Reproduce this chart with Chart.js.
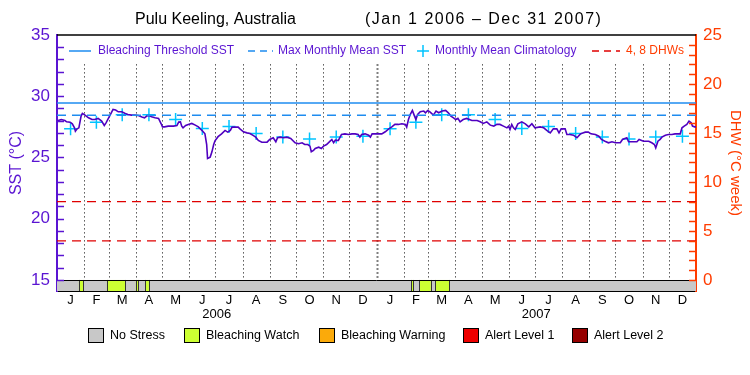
<!DOCTYPE html>
<html>
<head>
<meta charset="utf-8">
<script src="https://cdn.jsdelivr.net/npm/chart.js@4/dist/chart.umd.min.js"></script>
<style>
  body { margin: 0; background: #fff; }
  canvas { display: block; }
</style>
</head>
<body>
<canvas id="chart" width="750" height="375"></canvas>
<script>
// days since Jan 1 2006 and the SST
var sstDay = [0, 1.5, 5, 9, 11, 15, 17.5, 20, 21, 23, 25, 26, 27.5, 29, 32, 36, 40, 43, 47, 51, 54, 56, 59, 62, 64, 67, 70, 74, 78, 81, 85, 89, 93, 97, 100, 102.5, 105, 108, 112, 116, 119, 120.5, 123, 127, 133, 137, 139, 141, 142.5, 144, 147, 150, 154, 158, 161.5, 164.5, 167, 169, 171, 172, 175, 177, 179, 180.5, 184, 188, 192, 195, 198, 200, 203, 207, 209, 213, 217, 220.5, 224, 227, 230, 234, 240, 243, 247, 250, 252, 255, 259, 262.5, 267, 272, 276, 280, 283, 286.5, 289, 290.5, 293, 295, 299, 302, 304.5, 308, 312, 314, 316, 318, 321.5, 325, 329, 333, 337, 340.5, 344, 346, 348, 352, 356, 358, 360, 363.5, 369, 371, 375, 379, 382.5, 386, 390, 394, 398, 399.5, 401.5, 403.5, 406, 408, 410, 412, 415, 419, 421, 423.5, 426, 430, 433, 436, 440, 444, 447, 450, 453, 455.5, 458, 460.5, 464, 468, 474, 480, 483.5, 487, 491, 495, 499, 502.5, 506, 510, 514, 516, 517.5, 519.5, 521.5, 523.5, 526.5, 531, 535, 539, 542.5, 546, 552, 556, 559.5, 563.5, 567, 571, 573.5, 576, 580.5, 582.5, 586, 590, 594, 598, 603.5, 607, 610, 615, 619, 622, 626, 630, 634, 638, 643.5, 646, 651, 653, 659, 662.5, 665, 670, 676, 679.5, 682.5, 684, 686.5, 689, 691, 695, 698.5, 702.5, 706, 712, 714, 716.5, 719.5, 722, 724.5, 726, 728.5, 730];
var sstVal = [27.91, 28.02, 28.10, 28.02, 27.91, 27.88, 27.75, 27.42, 27.15, 27.34, 27.42, 27.80, 28.38, 28.60, 28.46, 28.24, 28.10, 28.10, 28.19, 27.97, 27.61, 27.83, 28.24, 28.65, 28.92, 28.87, 28.73, 28.73, 28.60, 28.51, 28.46, 28.46, 28.43, 28.30, 28.24, 28.38, 28.43, 28.32, 28.24, 28.19, 27.75, 27.50, 27.50, 27.56, 27.56, 27.61, 27.89, 27.91, 27.56, 27.42, 27.61, 27.70, 27.78, 27.64, 27.50, 27.29, 27.10, 26.93, 26.06, 24.92, 25.03, 25.46, 26.06, 26.36, 26.70, 26.93, 27.21, 27.07, 27.21, 27.48, 27.48, 27.48, 27.34, 27.10, 27.01, 26.96, 26.80, 26.66, 26.39, 26.25, 26.25, 26.47, 26.61, 26.28, 26.61, 26.66, 26.61, 26.66, 26.55, 26.20, 26.12, 26.20, 26.06, 26.06, 25.93, 25.46, 25.57, 25.74, 25.84, 25.74, 25.93, 26.06, 26.33, 26.47, 26.20, 26.42, 26.39, 26.88, 26.93, 26.88, 26.93, 26.93, 26.88, 26.66, 26.88, 26.93, 26.82, 26.66, 26.93, 26.93, 26.93, 26.93, 27.10, 27.34, 27.50, 27.70, 27.70, 27.75, 27.70, 27.48, 28.10, 28.51, 28.84, 28.46, 28.10, 28.51, 28.73, 28.79, 28.65, 28.84, 28.73, 28.46, 28.79, 28.65, 28.79, 28.84, 28.65, 28.38, 28.24, 28.10, 28.19, 27.91, 28.10, 28.19, 28.02, 28.02, 27.91, 27.78, 27.91, 27.64, 27.56, 27.70, 27.70, 27.56, 27.42, 27.56, 27.29, 27.70, 27.42, 27.29, 27.75, 27.91, 27.75, 27.50, 27.75, 27.42, 27.50, 27.42, 27.21, 27.01, 27.34, 27.34, 27.01, 27.34, 27.34, 26.88, 26.88, 26.82, 26.61, 26.93, 27.07, 27.07, 26.93, 26.88, 26.74, 26.47, 26.33, 26.20, 26.28, 26.20, 26.20, 26.47, 26.61, 26.28, 26.28, 26.28, 26.47, 26.33, 26.33, 26.20, 26.06, 25.79, 26.33, 26.47, 26.66, 26.82, 26.88, 26.88, 26.93, 26.93, 27.42, 27.56, 27.70, 27.97, 27.83, 27.56, 27.50, 27.50];

// monthly mean climatology (same each year)
var climVal = [27.34, 27.88, 28.48, 28.48, 28.10, 27.36, 27.52, 26.95, 26.68, 26.50, 26.68, 26.74];
var threshold = 29.45;
var maxMonthlyMean = 28.45;
var dhwLevels = [4, 8];

// bleaching watch periods (days since Jan 1 2006)
var watchStart = [25, 57, 90, 100.5, 404.5, 414, 432];
var watchEnd = [30, 78, 93, 105, 407, 427, 448];

var monthLetters = ['J', 'F', 'M', 'A', 'M', 'J', 'J', 'A', 'S', 'O', 'N', 'D'];
var monthLengths = [31, 28, 31, 30, 31, 30, 31, 31, 30, 31, 30, 31];
var years = ['2006', '2007'];
var leftTicks = [15, 20, 25, 30, 35];
var rightTicks = [0, 5, 10, 15, 20, 25];

var stressLabels = ['No Stress', 'Bleaching Watch', 'Bleaching Warning', 'Alert Level 1', 'Alert Level 2'];
var stressColors = ['#c8c8c8', '#ccff33', '#fbaa0a', '#ee0000', '#960000'];

var PURPLE = '#5a14d2';
var LINE = '#5000c0';
var BLUE = '#1e8cf0';
var CYAN = '#00c4ff';
var RED = '#e00000';
var ORANGE = '#ff3c00';
var FONT = '"Liberation Sans", Arial, sans-serif';

// month boundaries and mid points over the two years
var monthStart = [];
var monthMid = [];
var d = 0;
years.forEach(function() {
  monthLengths.forEach(function(len) {
    monthStart.push(d);
    monthMid.push(d + len / 2);
    d += len;
  });
});
var totalDays = d;

var climPts = [];
monthMid.forEach(function(m, i) {
  climPts.push({x: m, y: climVal[i % 12]});
});

function flat(v) {
  return [{x: 0, y: v}, {x: totalDays, y: v}];
}

var decorations = {
  id: 'decorations',
  beforeDatasetsDraw: function(chart) {
    var c = chart.ctx, x = chart.scales.x, y = chart.scales.y;
    c.save();
    c.strokeStyle = '#000';
    monthStart.forEach(function(m, i) {
      if (i === 0) return;
      var px = Math.round(x.getPixelForValue(m)) + 0.5;
      c.lineWidth = (i === 12) ? 2 : 1;
      c.setLineDash([1, 3]);
      c.beginPath();
      c.moveTo(px, y.getPixelForValue(32.6));
      c.lineTo(px, y.getPixelForValue(15));
      c.stroke();
    });
    c.restore();
  },
  afterDatasetsDraw: function(chart) {
    var c = chart.ctx, x = chart.scales.x, y = chart.scales.y, y2 = chart.scales.y2;
    var area = chart.chartArea;
    c.save();

    // stress strip
    var top = y.getPixelForValue(15), bot = y.getPixelForValue(y.min);
    c.fillStyle = stressColors[0];
    c.fillRect(area.left, top, area.right - area.left, bot - top);
    c.lineWidth = 1;
    c.strokeStyle = '#333';
    watchStart.forEach(function(s, i) {
      var a = x.getPixelForValue(s), b = x.getPixelForValue(watchEnd[i]);
      c.fillStyle = stressColors[1];
      c.fillRect(a, top, b - a, bot - top);
      c.beginPath();
      c.moveTo(Math.round(a) + 0.5, top); c.lineTo(Math.round(a) + 0.5, bot);
      c.moveTo(Math.round(b) + 0.5, top); c.lineTo(Math.round(b) + 0.5, bot);
      c.stroke();
    });
    c.strokeStyle = '#000';
    c.beginPath();
    c.moveTo(area.left, Math.round(top) + 0.5);
    c.lineTo(area.right, Math.round(top) + 0.5);
    c.stroke();

    // top border
    c.lineWidth = 1.5;
    c.beginPath();
    c.moveTo(area.left, area.top);
    c.lineTo(area.right, area.top);
    c.stroke();

    // inward ticks
    c.lineWidth = 1.5;
    c.strokeStyle = PURPLE;
    for (var v = 15; v <= 34; v++) {
      var py = Math.round(y.getPixelForValue(v)) + 0.5;
      c.beginPath(); c.moveTo(area.left, py); c.lineTo(area.left + 7, py); c.stroke();
    }
    c.strokeStyle = ORANGE;
    for (var w = 0; w <= 24; w++) {
      var py2 = Math.round(y2.getPixelForValue(w)) + 0.5;
      c.beginPath(); c.moveTo(area.right, py2); c.lineTo(area.right - 7, py2); c.stroke();
    }

    // month letters and years
    c.fillStyle = '#000';
    c.textAlign = 'center';
    c.textBaseline = 'middle';
    c.font = '13px ' + FONT;
    monthMid.forEach(function(m, i) {
      c.fillText(monthLetters[i % 12], x.getPixelForValue(m), bot + 9);
    });
    years.forEach(function(yr, i) {
      c.fillText(yr, x.getPixelForValue(365 * i + 182.5), bot + 23);
    });

    // title
    c.font = '16px ' + FONT;
    c.textAlign = 'left';
    c.fillText('Pulu Keeling, Australia', 135, 20);
    c.letterSpacing = '1.5px';
    c.fillText('(Jan 1 2006 \u2013 Dec 31 2007)', 365, 20);
    c.letterSpacing = '0px';

    // legend inside plot
    var ly = 51;
    c.font = '12px ' + FONT;
    c.lineWidth = 1.5;
    c.strokeStyle = BLUE;
    c.beginPath(); c.moveTo(69, ly); c.lineTo(91, ly); c.stroke();
    c.setLineDash([7, 5]);
    c.beginPath(); c.moveTo(248, ly); c.lineTo(273, ly); c.stroke();
    c.strokeStyle = RED;
    c.beginPath(); c.moveTo(592, ly); c.lineTo(620, ly); c.stroke();
    c.setLineDash([]);
    c.strokeStyle = CYAN;
    c.beginPath(); c.moveTo(417, ly); c.lineTo(429, ly); c.moveTo(423, ly - 6); c.lineTo(423, ly + 6); c.stroke();
    c.fillStyle = PURPLE;
    c.fillText('Bleaching Threshold SST', 98, ly);
    c.fillText('Max Monthly Mean SST', 278, ly);
    c.fillText('Monthly Mean Climatology', 435, ly);
    c.fillStyle = ORANGE;
    c.fillText('4, 8 DHWs', 626, ly);

    // stress legend below
    var bx = [88, 184, 319, 463, 572];
    c.font = '12.5px ' + FONT;
    c.lineWidth = 1;
    c.strokeStyle = '#000';
    stressLabels.forEach(function(lab, i) {
      c.fillStyle = stressColors[i];
      c.fillRect(bx[i], 328, 15, 14);
      c.strokeRect(bx[i] + 0.5, 328.5, 15, 14);
      c.fillStyle = '#000';
      c.fillText(lab, bx[i] + 22, 336);
    });
    c.restore();
  }
};

var ctx = document.getElementById('chart').getContext('2d');
var chart = new Chart(ctx, {
  type: 'line',
  data: {
    datasets: [
      {data: flat(threshold), borderColor: BLUE, borderWidth: 1.5, pointRadius: 0, yAxisID: 'y'},
      {data: flat(maxMonthlyMean), borderColor: BLUE, borderWidth: 1.5, borderDash: [9, 6], pointRadius: 0, yAxisID: 'y'},
      {data: flat(dhwLevels[0]), borderColor: RED, borderWidth: 1.2, borderDash: [9, 6], pointRadius: 0, yAxisID: 'y2'},
      {data: flat(dhwLevels[1]), borderColor: RED, borderWidth: 1.2, borderDash: [9, 6], pointRadius: 0, yAxisID: 'y2'},
      {data: sstDay.map(function(dd, i) { return {x: dd, y: sstVal[i]}; }),
       borderColor: LINE, borderWidth: 1.6, pointRadius: 0, tension: 0, yAxisID: 'y'},
      {type: 'scatter', data: climPts, pointStyle: 'cross', pointRadius: 6.5,
       borderColor: CYAN, borderWidth: 1.5, yAxisID: 'y'}
    ]
  },
  options: {
    responsive: false,
    animation: false,
    devicePixelRatio: 1,
    layout: {padding: {top: 35, left: 0, right: 0, bottom: 0}},
    plugins: {legend: {display: false}, tooltip: {enabled: false}},
    scales: {
      x: {
        type: 'linear', min: 0, max: totalDays,
        grid: {display: false, drawTicks: false},
        ticks: {display: false},
        border: {color: '#000', width: 1},
        afterFit: function(s) { s.height = 84; }
      },
      y: {
        position: 'left', min: 14.1, max: 35,
        afterBuildTicks: function(s) { s.ticks = leftTicks.map(function(v) { return {value: v}; }); },
        grid: {display: false, drawTicks: false},
        border: {color: PURPLE, width: 2},
        ticks: {color: PURPLE, font: {family: FONT, size: 17}, padding: 7},
        title: {display: true, text: 'SST (\u00b0C)', color: PURPLE, font: {family: FONT, size: 16}, padding: {top: 7, bottom: 0}},
        afterFit: function(s) { s.width = 57; }
      },
      y2: {
        position: 'right', min: -1.12, max: 25,
        afterBuildTicks: function(s) { s.ticks = rightTicks.map(function(v) { return {value: v}; }); },
        grid: {display: false, drawTicks: false},
        border: {color: ORANGE, width: 2},
        ticks: {color: ORANGE, font: {family: FONT, size: 17}, padding: 7},
        title: {display: true, text: 'DHW (\u00b0C week)', color: ORANGE, font: {family: FONT, size: 15}, padding: {top: 6, bottom: 0}},
        afterFit: function(s) { s.width = 54; }
      }
    }
  },
  plugins: [decorations]
});
</script>
</body>
</html>
